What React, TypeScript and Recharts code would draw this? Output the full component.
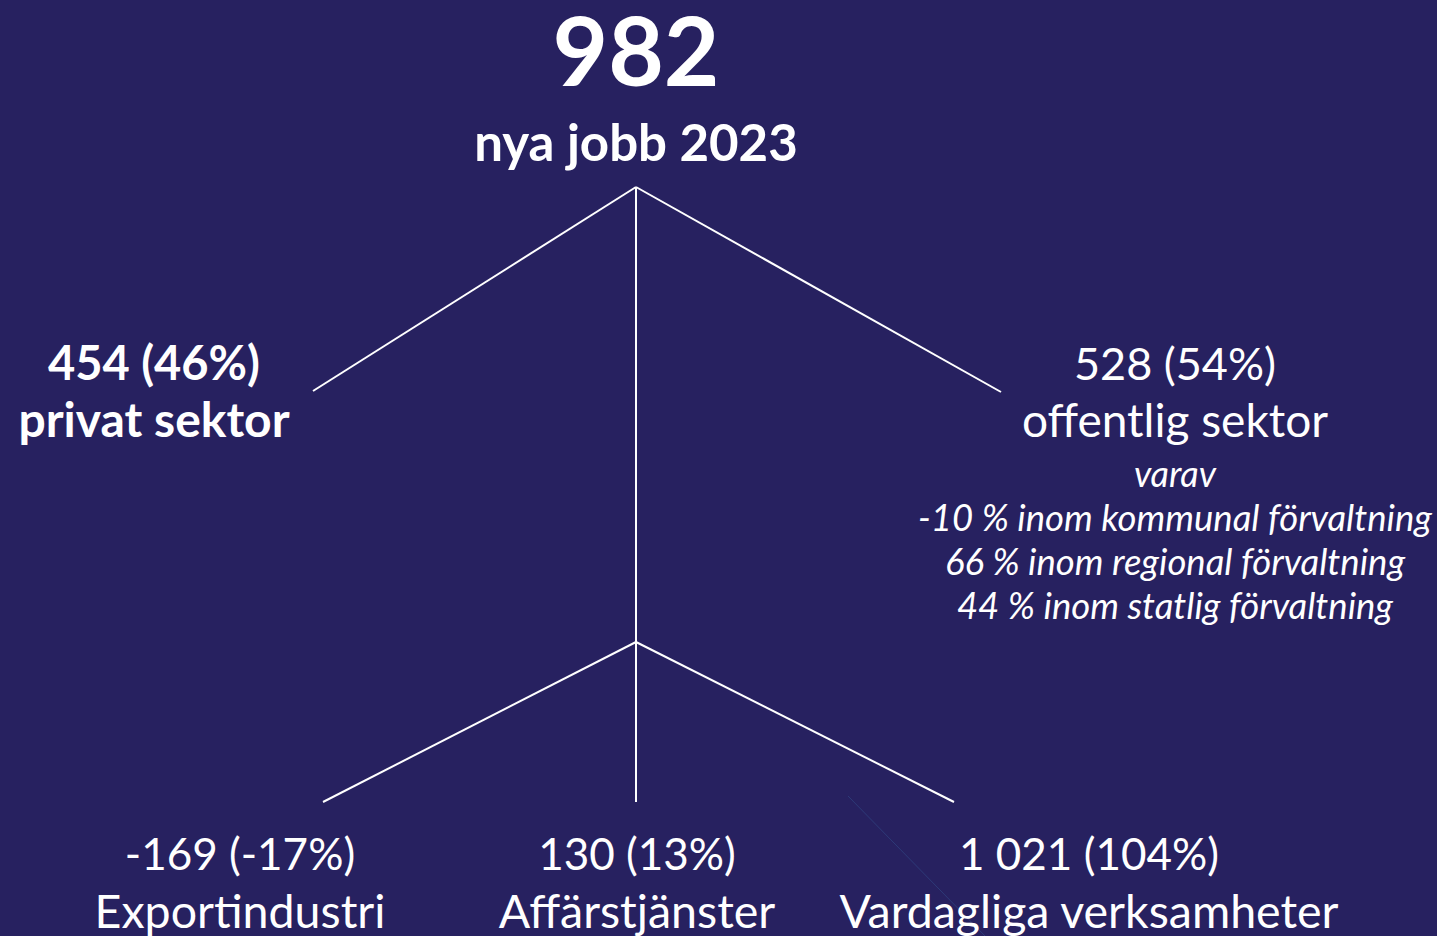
import { ComposedChart, Line, Scatter, XAxis, YAxis } from 'recharts';

const W = 1437;
const H = 936;
const BG = '#272160';
const FONT = 'Lato, "Noto Sans", sans-serif';

// values
const totalJobs = 982;
const totalYear = 2023;
const sectorNames = ['privat sektor', 'offentlig sektor'];
const sectorValues = [454, 528];
const sectorShares = [46, 54];
const publicSubNames = ['kommunal förvaltning', 'regional förvaltning', 'statlig förvaltning'];
const publicSubShares = [-10, 66, 44];
const privateNames = ['Exportindustri', 'Affärstjänster', 'Vardagliga verksamheter'];
const privateValues = [-169, 130, 1021];
const privateShares = [-17, 13, 104];

// diagram layout (picture coordinates)
const nodePos: Record<string, { x: number; y: number }> = {
  root: { x: 636, y: 187 },
  split: { x: 636, y: 642 },
  privat: { x: 313, y: 391 },
  offentlig: { x: 1001, y: 392 },
  export: { x: 323, y: 802 },
  affars: { x: 636, y: 802 },
  vardag: { x: 954, y: 802 },
};
const edges = [
  ['root', 'privat'],
  ['root', 'offentlig'],
  ['root', 'affars'],
  ['split', 'export'],
  ['split', 'vardag'],
];

const fmt = (n: number) => {
  const s = Math.abs(n).toString().replace(/\B(?=(\d{3})+(?!\d))/g, ' ');
  return (n < 0 ? '-' : '') + s;
};

type TextLine = { text: string; dy: number; size: number; weight?: number; italic?: boolean };
type Block = { x: number; y: number; lines: TextLine[] };

const blocks: Block[] = [
  {
    x: 636,
    y: 86,
    lines: [
      { text: fmt(totalJobs), dy: 0, size: 96, weight: 700 },
      { text: `nya jobb ${totalYear}`, dy: 75, size: 51, weight: 700 },
    ],
  },
  {
    x: 154,
    y: 380,
    lines: [
      { text: `${fmt(sectorValues[0])} (${sectorShares[0]}%)`, dy: 0, size: 47, weight: 700 },
      { text: sectorNames[0], dy: 57, size: 48, weight: 700 },
    ],
  },
  {
    x: 1175,
    y: 380,
    lines: [
      { text: `${fmt(sectorValues[1])} (${sectorShares[1]}%)`, dy: 0, size: 45 },
      { text: sectorNames[1], dy: 57, size: 46 },
      { text: 'varav', dy: 107, size: 36, italic: true },
      ...publicSubNames.map((n, i) => ({
        text: `${publicSubShares[i]} % inom ${n}`,
        dy: 151 + i * 44,
        size: 36.5,
        italic: true,
      })),
    ],
  },
  ...privateNames.map((n, i) => ({
    x: [240, 637, 1089][i],
    y: 870,
    lines: [
      { text: `${fmt(privateValues[i])} (${privateShares[i]}%)`, dy: 0, size: 44 },
      { text: n, dy: 58, size: 46.5 },
    ],
  })),
];

const labelPoints = blocks.map((b, i) => ({ x: b.x, y: b.y, idx: i }));

const BlockShape = (props: any) => {
  const { cx, cy, payload } = props;
  const b = blocks[payload.idx];
  return (
    <g>
      {b.lines.map((l, j) => (
        <text
          key={j}
          x={cx}
          y={cy + l.dy}
          textAnchor="middle"
          fill="#ffffff"
          fontFamily={FONT}
          fontSize={l.size}
          fontWeight={l.weight ?? 400}
          fontStyle={l.italic ? 'italic' : 'normal'}
        >
          {l.text}
        </text>
      ))}
    </g>
  );
};

export default function App() {
  return (
    <div style={{ width: W, height: H, background: BG }}>
      <style>{'body{margin:0}'}</style>
      <ComposedChart width={W} height={H} margin={{ top: 0, right: 0, bottom: 0, left: 0 }}>
        <XAxis dataKey="x" type="number" domain={[0, W]} hide allowDataOverflow />
        <YAxis dataKey="y" type="number" domain={[0, H]} reversed hide allowDataOverflow />
        <Line
          data={[
            { x: 848, y: 796 },
            { x: 985, y: 936 },
          ]}
          dataKey="y"
          stroke="#2e3a78"
          strokeWidth={1}
          dot={false}
          isAnimationActive={false}
        />
        {edges.map(([a, b]) => (
          <Line
            key={a + b}
            data={[nodePos[a], nodePos[b]]}
            dataKey="y"
            stroke="#ffffff"
            strokeWidth={2}
            dot={false}
            isAnimationActive={false}
          />
        ))}
        <Scatter data={labelPoints} dataKey="y" shape={BlockShape} isAnimationActive={false} />
      </ComposedChart>
    </div>
  );
}
